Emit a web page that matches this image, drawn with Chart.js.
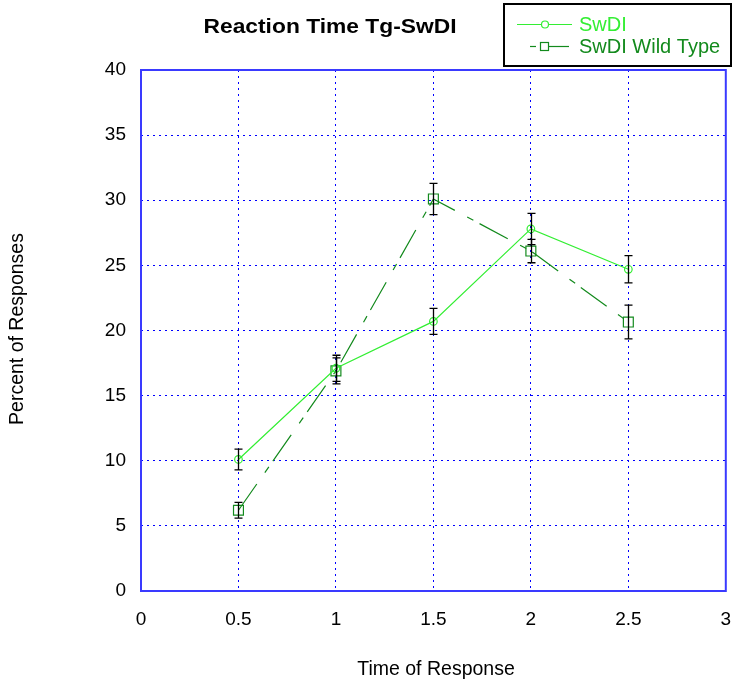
<!DOCTYPE html>
<html>
<head>
<meta charset="utf-8">
<script src="https://cdn.jsdelivr.net/npm/chart.js@4"></script>
<style>
body{margin:0;background:#fff;}
#wrap{width:734px;height:685px;}
</style>
</head>
<body>
<div id="wrap"><canvas id="chart"></canvas></div>
<script>
/* data */
const times = [0.5, 1, 1.5, 2, 2.5];
const swdi = [10.1, 17.1, 20.7, 27.8, 24.7];
const swdiErr = [0.8, 1.0, 1.0, 1.2, 1.05];
const wildType = [6.2, 16.9, 30.1, 26.1, 20.65];
const wildTypeErr = [0.6, 1.0, 1.2, 0.9, 1.3];
const xTicks = [0, 0.5, 1, 1.5, 2, 2.5, 3];

const lightGreen = "#33ee33";
const darkGreen = "#138a1d";
const dashDot = [32, 14, 7, 7];
const font = "Liberation Sans, Arial, sans-serif";

/* error bars, frame, title, legend, axis titles */
const extras = {
id: "extras",
afterDatasetsDraw(chart){
const ctx = chart.ctx;
const xs = chart.scales.x;
const ys = chart.scales.y;
const a = chart.chartArea;
const sets = [[swdi, swdiErr], [wildType, wildTypeErr]];
ctx.save();
ctx.strokeStyle = "#3a3aff";
ctx.lineWidth = 2;
ctx.strokeRect(a.left, a.top, a.right - a.left, a.bottom - a.top);
ctx.strokeStyle = "#000";
ctx.lineWidth = 1.3;
sets.forEach(s => {
s[0].forEach((v, i) => {
let px = Math.round(xs.getPixelForValue(times[i])) + 0.5;
let top = ys.getPixelForValue(v + s[1][i]);
let bot = ys.getPixelForValue(v - s[1][i]);
ctx.beginPath();
ctx.moveTo(px, top); ctx.lineTo(px, bot);
ctx.moveTo(px - 4, top); ctx.lineTo(px + 4, top);
ctx.moveTo(px - 4, bot); ctx.lineTo(px + 4, bot);
ctx.stroke();
});
});
ctx.restore();
},
afterDraw(chart){
const ctx = chart.ctx;
ctx.save();
/* title */
ctx.fillStyle = "#000";
ctx.textAlign = "center";
ctx.textBaseline = "middle";
ctx.save();
ctx.translate(330, 27);
ctx.scale(1.14, 1);
ctx.font = "bold 20px " + font;
ctx.fillText("Reaction Time Tg-SwDI", 0, 0);
ctx.restore();
/* axis titles */
ctx.font = "19.5px " + font;
ctx.fillText("Time of Response", 436, 670);
ctx.translate(18, 329);
ctx.rotate(-Math.PI / 2);
ctx.fillText("Percent of Responses", 0, 0);
ctx.restore();

/* legend */
ctx.save();
ctx.fillStyle = "#fff";
ctx.fillRect(504, 4, 227, 62);
ctx.strokeStyle = "#000";
ctx.lineWidth = 2;
ctx.strokeRect(504, 4, 227, 62);
ctx.lineWidth = 1.2;
ctx.strokeStyle = lightGreen;
ctx.beginPath(); ctx.moveTo(517, 24.5); ctx.lineTo(572, 24.5); ctx.stroke();
ctx.fillStyle = "#fff";
ctx.beginPath(); ctx.arc(545, 24.5, 3.5, 0, Math.PI * 2); ctx.fill(); ctx.stroke();
ctx.strokeStyle = darkGreen;
ctx.beginPath(); ctx.moveTo(530, 46.5); ctx.lineTo(536, 46.5); ctx.stroke();
ctx.beginPath(); ctx.moveTo(540, 46.5); ctx.lineTo(569, 46.5); ctx.stroke();
ctx.fillRect(540.5, 42.5, 8, 8);
ctx.strokeRect(540.5, 42.5, 8, 8);
ctx.font = "20px " + font;
ctx.textAlign = "left";
ctx.textBaseline = "middle";
ctx.fillStyle = lightGreen;
ctx.fillText("SwDI", 579, 25);
ctx.fillStyle = darkGreen;
ctx.fillText("SwDI Wild Type", 579, 47);
ctx.restore();
}
};

new Chart(document.getElementById("chart"), {
type: "line",
data: {
datasets: [{
label: "SwDI",
data: times.map((t, i) => ({x: t, y: swdi[i]})),
borderColor: lightGreen,
backgroundColor: "rgba(0,0,0,0)",
borderWidth: 1.2,
pointStyle: "circle",
pointRadius: 3.8,
pointBorderWidth: 1.2,
pointBorderColor: lightGreen,
pointBackgroundColor: "rgba(0,0,0,0)",
tension: 0
}, {
label: "SwDI Wild Type",
data: times.map((t, i) => ({x: t, y: wildType[i]})),
borderColor: darkGreen,
backgroundColor: "rgba(0,0,0,0)",
borderWidth: 1.2,
borderDash: dashDot,
pointStyle: "rect",
pointRadius: 7,
pointBorderWidth: 1.2,
pointBorderColor: darkGreen,
pointBackgroundColor: "rgba(0,0,0,0)",
tension: 0
}]
},
options: {
responsive: true,
maintainAspectRatio: false,
animation: false,
layout: {padding: {left: 0, top: 70, right: 8, bottom: 0}},
plugins: {legend: {display: false}, title: {display: false}, tooltip: {enabled: false}},
scales: {
x: {
type: "linear",
min: 0,
max: 3,
afterBuildTicks: scale => { scale.ticks = xTicks.map(v => ({value: v})); },
afterFit: scale => { scale.height = 94; scale.paddingLeft = 0; scale.paddingRight = 0; },
ticks: {color: "#000", font: {family: font, size: 19}, padding: 17, maxRotation: 0, callback: v => String(v)},
grid: {color: "#0000ff", lineWidth: 1, drawTicks: false},
border: {display: false, dash: [2, 4]}
},
y: {
min: 0,
max: 40,
afterFit: scale => { scale.width = 141; scale.paddingTop = 0; scale.paddingBottom = 0; },
ticks: {stepSize: 5, color: "#000", font: {family: font, size: 19}, padding: 15},
grid: {color: "#0000ff", lineWidth: 1, drawTicks: false},
border: {display: false, dash: [2, 4]}
}
}
},
plugins: [extras]
});
</script>
</body>
</html>
